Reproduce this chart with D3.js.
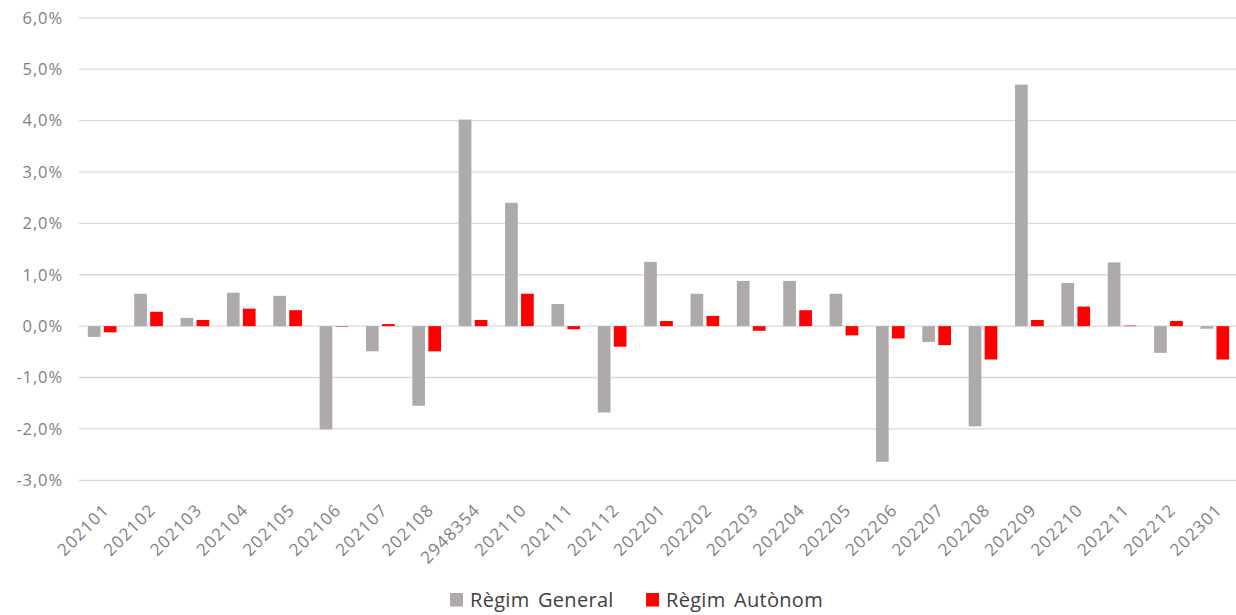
<!DOCTYPE html>
<html>
<head>
<meta charset="utf-8">
<script src="https://cdn.jsdelivr.net/npm/d3@7"></script>
<style>
  body { margin: 0; background: #fff; }
  svg { display: block; font-family: "Open Sans", sans-serif; }
</style>
</head>
<body>
<div id="chart"></div>
<script>
// Categories (month codes as shown on the axis)
const categories = ["202101", "202102", "202103", "202104", "202105", "202106",
    "202107", "202108", "2948354", "202110", "202111", "202112",
    "202201", "202202", "202203", "202204", "202205", "202206",
    "202207", "202208", "202209", "202210", "202211", "202212", "202301"];

// Monthly variation, %
const regimGeneral = [-0.21, 0.63, 0.16, 0.65, 0.59, -2.01, -0.49, -1.55, 4.02, 2.40, 0.43, -1.68,
    1.25, 0.63, 0.88, 0.88, 0.63, -2.64, -0.31, -1.95, 4.70, 0.84, 1.24, -0.52, -0.05];
const regimAutonom = [-0.12, 0.28, 0.12, 0.34, 0.31, -0.01, 0.04, -0.49, 0.12, 0.63, -0.06, -0.40,
    0.10, 0.20, -0.09, 0.31, -0.18, -0.24, -0.37, -0.65, 0.12, 0.38, 0.01, 0.10, -0.65];

const seriesNames = ["Règim General", "Règim Autònom"];
const seriesColors = ["#aeaaaa", "#ff0000"];
const yTicks = [-3, -2, -1, 0, 1, 2, 3, 4, 5, 6];

const width = 1236, height = 615;

const svg = d3.select("#chart").append("svg")
    .attr("width", width)
    .attr("height", height);

const x0 = d3.scaleBand()
    .domain(categories)
    .range([79, 1238])
    .paddingInner(0)
    .paddingOuter(0);

const x1 = d3.scaleBand()
    .domain(seriesNames)
    .range([0, x0.bandwidth()])
    .paddingInner(0.206)
    .paddingOuter(0.552);

const y = d3.scaleLinear()
    .domain([-3, 6])
    .range([480.3, 17.8]);

// Gridlines
svg.append("g")
    .selectAll("line")
    .data(yTicks)
    .join("line")
    .attr("x1", 79)
    .attr("x2", width)
    .attr("y1", d => y(d))
    .attr("y2", d => y(d))
    .attr("stroke", "#d9d9d9")
    .attr("stroke-width", 1.3);

// Y axis labels (plain hyphen for the minus, comma decimals)
const yAxis = svg.append("g")
    .attr("transform", "translate(63,0)")
    .call(d3.axisLeft(y)
        .tickValues(yTicks)
        .tickSize(0)
        .tickPadding(0)
        .tickFormat(d => (d < 0 ? "-" : "") + Math.abs(d).toFixed(1).replace(".", ",") + "%"));
yAxis.select(".domain").remove();
yAxis.selectAll("text")
    .attr("fill", "#7f7f7f")
    .style("font-size", "16.5px")
    .style("letter-spacing", "0.9px")
    .style("font-family", "'Open Sans', sans-serif");

// Bars
const rows = categories.map((c, i) => ({
    cat: c,
    values: [regimGeneral[i], regimAutonom[i]]
}));

const groups = svg.append("g")
    .selectAll("g")
    .data(rows)
    .join("g")
    .attr("transform", d => `translate(${x0(d.cat)},0)`);

groups.selectAll("rect")
    .data(d => d.values.map((v, k) => ({ key: seriesNames[k], value: v, k })))
    .join("rect")
    .attr("x", d => x1(d.key))
    .attr("width", x1.bandwidth())
    .attr("y", d => y(Math.max(0, d.value)))
    .attr("height", d => Math.abs(y(d.value) - y(0)))
    .attr("fill", d => seriesColors[d.k]);

// X axis labels, rotated
svg.append("g")
    .selectAll("text")
    .data(categories)
    .join("text")
    .attr("transform", d => `translate(${x0(d) + x0.bandwidth() / 2 + 4},507) rotate(-45)`)
    .attr("text-anchor", "end")
    .attr("dy", "0.35em")
    .attr("fill", "#7f7f7f")
    .style("font-size", "17px")
    .style("letter-spacing", "1.1px")
    .text(d => d);

// Legend
const legendItems = [
    { name: seriesNames[0], color: seriesColors[0], x: 450 },
    { name: seriesNames[1], color: seriesColors[1], x: 646 }
];
const legend = svg.append("g")
    .selectAll("g")
    .data(legendItems)
    .join("g")
    .attr("transform", d => `translate(${d.x},593)`);

legend.append("rect")
    .attr("width", 13)
    .attr("height", 13.5)
    .attr("fill", d => d.color);

legend.append("text")
    .attr("x", 20)
    .attr("y", 14)
    .attr("fill", "#404040")
    .style("font-size", "20px")
    .style("letter-spacing", "0.3px")
    .style("word-spacing", "3px")
    .text(d => d.name);
</script>
</body>
</html>
